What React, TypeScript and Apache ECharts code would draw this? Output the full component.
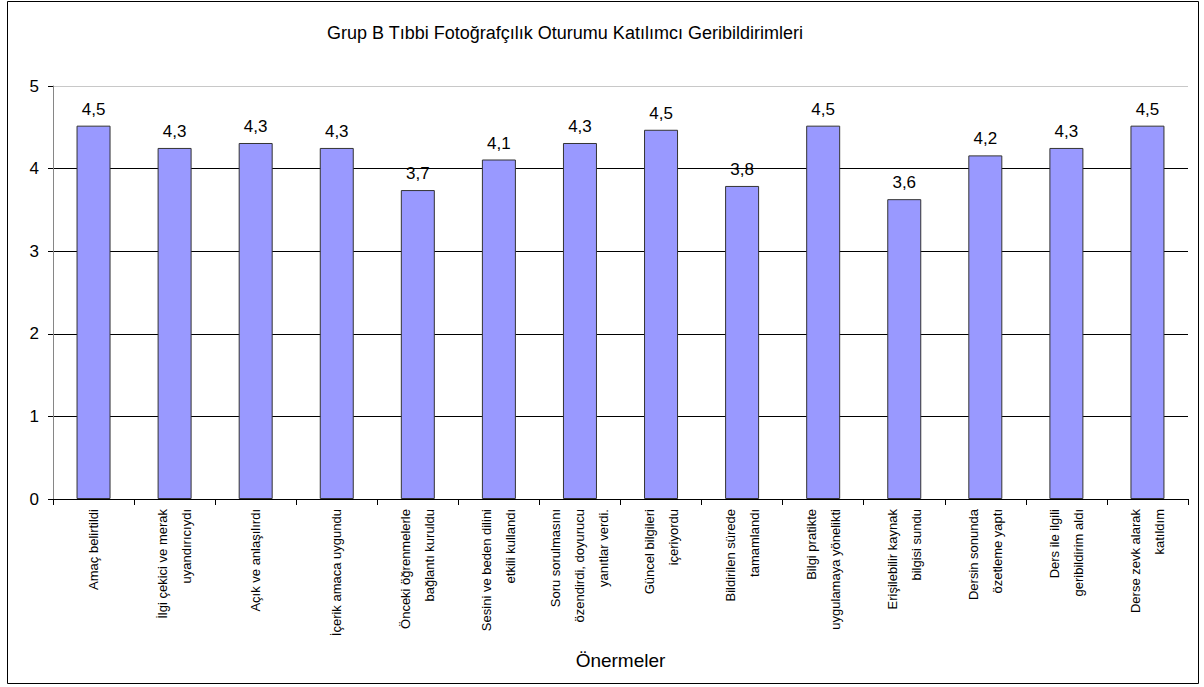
import React, { useEffect, useRef } from "react";
import * as echarts from "echarts";

const titleText = "Grup B Tıbbi Fotoğrafçılık Oturumu Katılımcı Geribildirimleri";
const axisName = "Önermeler";
const categories = [
  "Amaç belirtildi",
  "İlgi çekici ve merak\nuyandırıcıydı",
  "Açık ve anlaşılırdı",
  "İçerik amaca uygundu",
  "Önceki öğrenmelerle\nbağlantı kuruldu",
  "Sesini ve beden dilini\netkili kullandı",
  "Soru sorulmasını\nözendirdi, doyurucu\nyanıtlar verdi.",
  "Güncel bilgileri\niçeriyordu",
  "Bildirilen sürede\ntamamlandı",
  "Bilgi pratikte\nuygulamaya yönelikti",
  "Erişilebilir kaynak\nbilgisi sundu",
  "Dersin sonunda\nözetleme yaptı",
  "Ders ile ilgili\ngeribildirim aldı",
  "Derse zevk alarak\nkatıldım",
];
const scores = [4.52, 4.25, 4.31, 4.25, 3.74, 4.11, 4.31, 4.47, 3.79, 4.52, 3.63, 4.16, 4.25, 4.52];
const yTicks = { min: 0, max: 5, interval: 1 };

const FONT = 'Arial, "Liberation Sans", sans-serif';

export default function App() {
  const ref = useRef<HTMLDivElement>(null);
  useEffect(() => {
    document.body.style.margin = "0";
    if (!ref.current) return;
    const chart = echarts.init(ref.current, undefined, { renderer: "svg" });
    chart.setOption({
      animation: false,
      backgroundColor: "#ffffff",
      title: {
        text: titleText,
        left: 560,
        top: 19,
        textAlign: "center",
        textStyle: { fontFamily: FONT, fontSize: 18, fontWeight: "normal", color: "#000" },
      },
      graphic: [
        {
          type: "rect",
          shape: { x: 7.5, y: 1.5, width: 1191, height: 682 },
          style: { fill: "none", stroke: "#000", lineWidth: 1 },
          silent: true,
        },
      ],
      grid: { left: 53, right: 16, top: 86, bottom: 188, containLabel: false },
      xAxis: {
        type: "category",
        data: categories,
        name: axisName,
        nameLocation: "middle",
        nameGap: 152,
        nameTextStyle: { fontFamily: FONT, fontSize: 19, color: "#000" },
        axisLine: { lineStyle: { color: "#000", width: 1 } },
        axisTick: { show: true, length: 6, lineStyle: { color: "#000" } },
        axisLabel: {
          rotate: 90,
          interval: 0,
          margin: 10,
          fontFamily: FONT,
          fontSize: 13,
          lineHeight: 24,
          color: "#000",
        },
      },
      yAxis: {
        type: "value",
        min: yTicks.min,
        max: yTicks.max,
        interval: yTicks.interval,
        axisLine: { show: true, lineStyle: { color: "#868686", width: 1 } },
        axisTick: { show: true, length: 5, lineStyle: { color: "#000" } },
        axisLabel: { fontFamily: FONT, fontSize: 17, color: "#000", margin: 14 },
        splitLine: {
          show: true,
          lineStyle: { color: ["#000", "#000", "#000", "#000", "#000", "#c8c8c8"], width: 1 },
        },
      },
      series: [
        {
          type: "bar",
          data: scores,
          barWidth: 34,
          itemStyle: { color: "#9999ff", borderColor: "#333333", borderWidth: 1 },
          label: {
            show: true,
            position: "top",
            distance: 8,
            fontFamily: FONT,
            fontSize: 17,
            color: "#000",
            formatter: (p: any) => Number(p.value).toFixed(1).replace(".", ","),
          },
        },
      ],
    });
    return () => chart.dispose();
  }, []);
  return <div ref={ref} style={{ width: 1204, height: 687 }} />;
}
